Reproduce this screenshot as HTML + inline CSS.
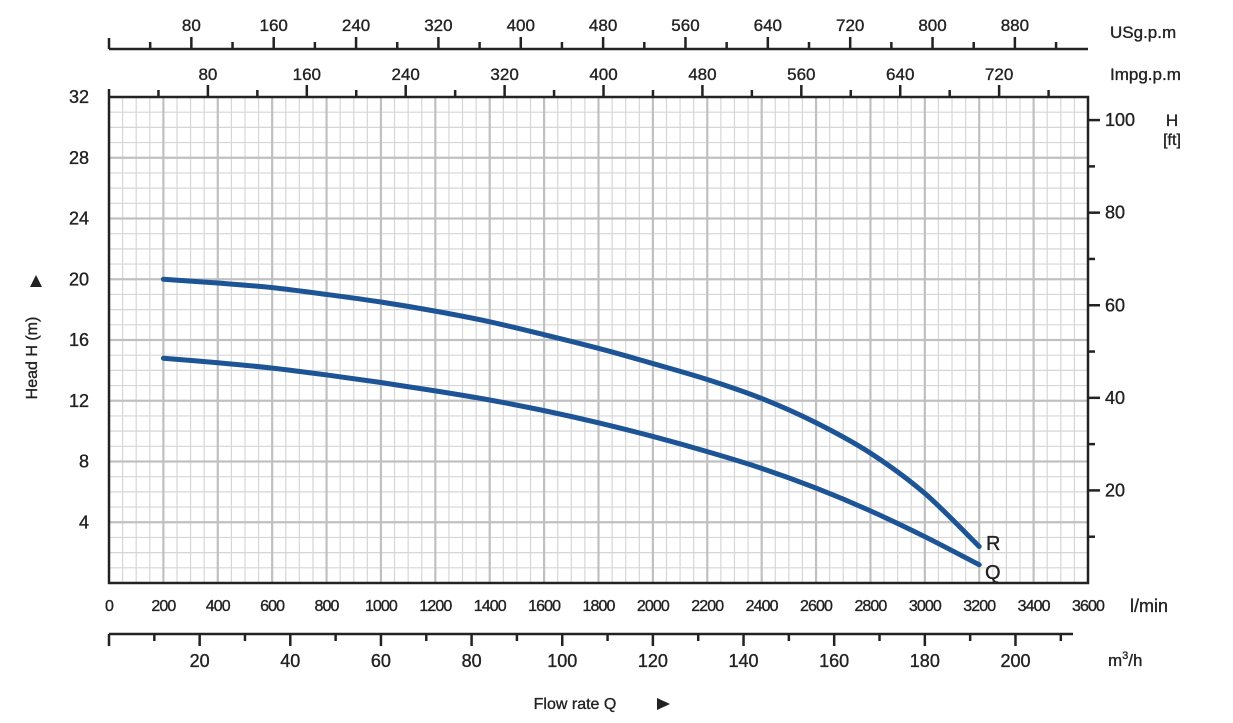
<!DOCTYPE html>
<html><head><meta charset="utf-8"><style>
html,body{margin:0;padding:0;background:#fff;}
svg{display:block;font-family:"Liberation Sans",sans-serif;}
text{stroke:#222;stroke-width:0.35;}
</style></head><body>
<svg id="s" width="1233" height="723" viewBox="0 0 1233 723" xmlns="http://www.w3.org/2000/svg"></svg>
<script>
const s=document.getElementById('s');
const L=109,R=1088,T=97,B=583;
const X=q=>L+(R-L)*q/3600, Y=h=>B-(B-T)*h/32;
let o='';
for(let q=0;q<=3600;q+=50){if(q%200)o+=`<line x1="${X(q)}" y1="${T}" x2="${X(q)}" y2="${B}" stroke="#d6d6d6" stroke-width="1.2"/>`;}
for(let h=0;h<=32;h+=1){if(h%4)o+=`<line x1="${L}" y1="${Y(h)}" x2="${R}" y2="${Y(h)}" stroke="#d6d6d6" stroke-width="1.2"/>`;}
for(let q=200;q<3600;q+=200)o+=`<line x1="${X(q)}" y1="${T}" x2="${X(q)}" y2="${B}" stroke="#c0c0c0" stroke-width="2.2"/>`;
for(let h=4;h<32;h+=4)o+=`<line x1="${L}" y1="${Y(h)}" x2="${R}" y2="${Y(h)}" stroke="#c0c0c0" stroke-width="2.2"/>`;
o+=`<path d="M${L} ${T-8}V${B}H${R}V${T}H${L}" fill="none" stroke="#222" stroke-width="2.5"/>`;
for(let h=4;h<=32;h+=4)o+=`<text x="89" y="${Y(h)+6}" font-size="18" text-anchor="end" fill="#222">${h}</text>`;
for(let q=0;q<=3600;q+=200)o+=`<text x="${X(q)}" y="611" font-size="16" text-anchor="middle" fill="#222" letter-spacing="-0.9">${q}</text>`;
o+=`<text x="1130" y="612" font-size="18" fill="#222">l/min</text>`;
const mft=0.3048;
for(let f=10;f<=100;f+=10){const y=Y(f*mft);o+=`<line x1="${R}" y1="${y}" x2="${R+(f%20?7:12)}" y2="${y}" stroke="#222" stroke-width="2.5"/>`;
if(f%20==0)o+=`<text x="${R+17}" y="${y+6}" font-size="18" fill="#222">${f}</text>`;}
o+=`<text x="1172" y="126" font-size="17" text-anchor="middle" fill="#222">H</text><text x="1172" y="145" font-size="16" text-anchor="middle" fill="#222">[ft]</text>`;
const imp=4.54609,us=3.78541;
for(let g=40;g<=760;g+=40){const x=X(g*imp);if(x>R)break;o+=`<line x1="${x}" y1="${T}" x2="${x}" y2="${T-(g%80?7:12)}" stroke="#222" stroke-width="2.5"/>`;
if(g%80==0)o+=`<text x="${x}" y="80" font-size="17" text-anchor="middle" fill="#222">${g}</text>`;}
o+=`<text x="1110" y="80" font-size="17" fill="#222">Impg.p.m</text>`;
o+=`<line x1="${L}" y1="49" x2="${R}" y2="49" stroke="#222" stroke-width="2.5"/><line x1="${L}" y1="49" x2="${L}" y2="38" stroke="#222" stroke-width="2.5"/>`;
for(let g=40;g<=940;g+=40){const x=X(g*us);if(x>R)break;o+=`<line x1="${x}" y1="49" x2="${x}" y2="${49-(g%80?7:12)}" stroke="#222" stroke-width="2.5"/>`;
if(g%80==0)o+=`<text x="${x}" y="31" font-size="17" text-anchor="middle" fill="#222">${g}</text>`;}
o+=`<text x="1110" y="38" font-size="17" fill="#222">USg.p.m</text>`;
o+=`<line x1="${L}" y1="634" x2="1073" y2="634" stroke="#222" stroke-width="2.5"/><line x1="${L}" y1="634" x2="${L}" y2="646" stroke="#222" stroke-width="2.5"/>`;
for(let m=10;m<=210;m+=10){const x=X(m*1000/60);o+=`<line x1="${x}" y1="634" x2="${x}" y2="${634+(m%20?7:12)}" stroke="#222" stroke-width="2.5"/>`;
if(m%20==0)o+=`<text x="${x}" y="667" font-size="18" text-anchor="middle" fill="#222">${m}</text>`;}
o+=`<text x="1108" y="666" font-size="17" fill="#222">m<tspan font-size="11" dy="-7">3</tspan><tspan dy="7">/h</tspan></text>`;
o+=`<text transform="translate(37,358) rotate(-90)" font-size="16" text-anchor="middle" fill="#222">Head H (m)</text>`;
o+=`<path d="M30 287L36 275L42 287Z" fill="#222"/>`;
o+=`<text x="575" y="709" font-size="16" text-anchor="middle" fill="#222">Flow rate Q</text><path d="M657 698L670 704L657 710Z" fill="#222"/>`;
function smooth(pts){const P=pts.map(p=>[X(p[0]),Y(p[1])]);let d=`M${P[0][0]} ${P[0][1]}`;
for(let i=0;i<P.length-1;i++){const p0=P[i-1]||P[i],p1=P[i],p2=P[i+1],p3=P[i+2]||p2;
d+=`C${p1[0]+(p2[0]-p0[0])/6} ${p1[1]+(p2[1]-p0[1])/6} ${p2[0]-(p3[0]-p1[0])/6} ${p2[1]-(p3[1]-p1[1])/6} ${p2[0]} ${p2[1]}`;}return d;}
const Rv=[20,19.75,19.45,19.0,18.5,17.9,17.2,16.35,15.45,14.45,13.4,12.15,10.55,8.55,5.9,2.4];
const Qv=[14.8,14.5,14.15,13.7,13.2,12.65,12.05,11.35,10.55,9.65,8.65,7.55,6.25,4.75,3.05,1.2];
const Rc=Rv.map((v,i)=>[200+200*i,v]),Qc=Qv.map((v,i)=>[200+200*i,v]);
o+=`<path d="${smooth(Rc)}" fill="none" stroke="#1d5496" stroke-width="5" stroke-linecap="round"/>`;
o+=`<path d="${smooth(Qc)}" fill="none" stroke="#1d5496" stroke-width="5" stroke-linecap="round"/>`;
o+=`<text x="986" y="550" font-size="20" fill="#222">R</text><text x="985" y="579" font-size="20" fill="#222">Q</text>`;
s.innerHTML=o;
</script>
</body></html>
